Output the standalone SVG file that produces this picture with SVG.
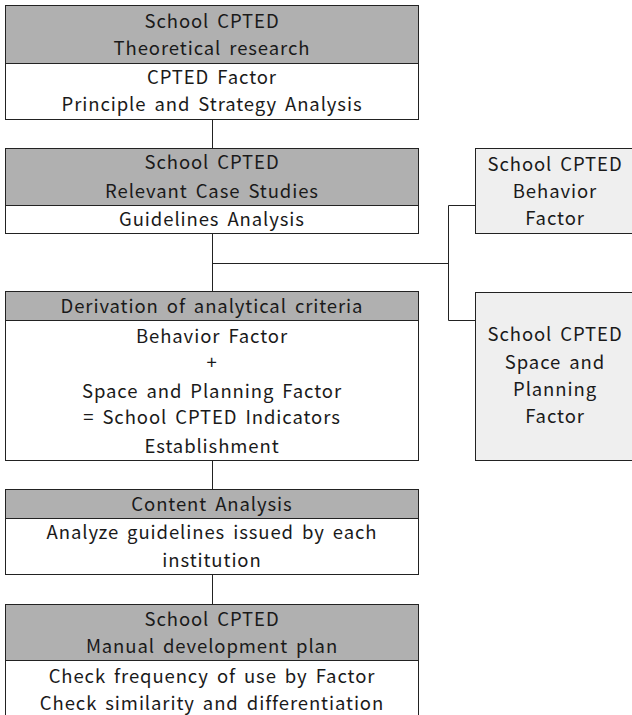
<svg xmlns="http://www.w3.org/2000/svg" width="632" height="715" viewBox="0 0 632 715">
<style>
.hd{fill:#b0b0b0;stroke:#222;stroke-width:1}
.bd{fill:#ffffff;stroke:#222;stroke-width:1}
.lt{fill:#efefef;stroke:#222;stroke-width:1}
.cn{stroke:#222;stroke-width:1;fill:none}
text{font-family:"Noto Sans CJK KR","Noto Sans",sans-serif;font-size:18.5px;fill:#1a1a1a;text-anchor:middle;letter-spacing:0.9px;word-spacing:3px}
</style>
<rect width="632" height="715" fill="#ffffff"/>
<g id="connectors">
<path class="cn" d="M212.5 119.5V148.5M212.5 233.5V291.5M212.5 263.5H448.5M448.5 205.5V320.5M448.5 205.5H475.5M448.5 320.5H475.5M212.5 460.5V489.5M212.5 574.5V604.5"/>
</g>
<g id="node1">
<rect class="hd" x="5.5" y="5.5" width="413" height="58"/>
<rect class="bd" x="5.5" y="63.5" width="413" height="56"/>
<text x="212" y="28">School CPTED</text>
<text x="212" y="55">Theoretical research</text>
<text x="212" y="84">CPTED Factor</text>
<text x="212" y="111">Principle and Strategy Analysis</text>
</g>
<g id="node2">
<rect class="hd" x="5.5" y="148.5" width="413" height="57"/>
<rect class="bd" x="5.5" y="205.5" width="413" height="28"/>
<text x="212" y="169">School CPTED</text>
<text x="212" y="198">Relevant Case Studies</text>
<text x="212" y="226">Guidelines Analysis</text>
</g>
<g id="node3">
<rect class="hd" x="5.5" y="291.5" width="413" height="29"/>
<rect class="bd" x="5.5" y="320.5" width="413" height="140"/>
<text x="212" y="313">Derivation of analytical criteria</text>
<text x="212" y="343">Behavior Factor</text>
<text x="212" y="369">+</text>
<text x="212" y="398">Space and Planning Factor</text>
<text x="212" y="424">= School CPTED Indicators</text>
<text x="212" y="453">Establishment</text>
</g>
<g id="node4">
<rect class="hd" x="5.5" y="489.5" width="413" height="29"/>
<rect class="bd" x="5.5" y="518.5" width="413" height="56"/>
<text x="212" y="511">Content Analysis</text>
<text x="212" y="539">Analyze guidelines issued by each</text>
<text x="212" y="567">institution</text>
</g>
<g id="node5">
<rect class="hd" x="5.5" y="604.5" width="413" height="56"/>
<rect class="bd" x="5.5" y="660.5" width="413" height="80"/>
<text x="212" y="626">School CPTED</text>
<text x="212" y="653">Manual development plan</text>
<text x="212" y="683">Check frequency of use by Factor</text>
<text x="212" y="710">Check similarity and differentiation</text>
</g>
<g id="node6">
<rect class="lt" x="475.5" y="148.5" width="165" height="85"/>
<text x="555" y="171">School CPTED</text>
<text x="555" y="198">Behavior</text>
<text x="555" y="225">Factor</text>
</g>
<g id="node7">
<rect class="lt" x="475.5" y="292.5" width="165" height="168"/>
<text x="555" y="341">School CPTED</text>
<text x="555" y="369">Space and</text>
<text x="555" y="396">Planning</text>
<text x="555" y="423">Factor</text>
</g>
</svg>
